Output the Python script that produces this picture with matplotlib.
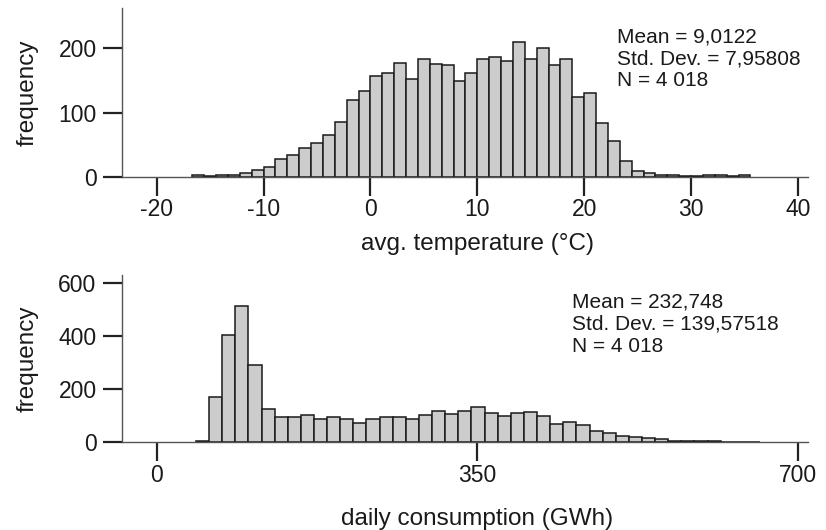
import numpy as np
import matplotlib
matplotlib.use("Agg")
import matplotlib.pyplot as plt

#******************
#   Data
#******************
# avg. temperature histogram (bin width 10/9 degC, first bin starts at -15 bins)
temp_start = -150.0 / 9.0
temp_width = 10.0 / 9.0
temp_counts = [2, 1, 2, 2, 6, 11, 15, 27, 34, 44, 52, 65, 86, 119, 133,
               157, 162, 178, 152, 183, 175, 174, 149, 162, 183, 187, 180,
               210, 183, 200, 174, 183, 125, 131,
               83, 55, 24, 9, 5, 3, 2, 1, 1, 2, 2, 1, 2]
temp_xticks = [-20, -10, 0, 10, 20, 30, 40]
temp_yticks = [0, 100, 200]
temp_stats = "Mean = 9,0122\nStd. Dev. = 7,95808\nN = 4 018"

# daily consumption histogram
cons_start = 42.9
cons_width = 14.32
cons_counts = [5, 172, 403, 514, 291, 125, 96, 96, 103, 88, 96, 88, 71, 88,
               96, 96, 89, 103, 118, 107, 118, 132, 109, 100, 109, 115, 100,
               69, 78, 65, 43, 34, 25, 21, 18, 11, 6, 5, 6, 4, 2, 2, 2]
cons_xticks = [0, 350, 700]
cons_yticks = [0, 200, 400, 600]
cons_stats = "Mean = 232,748\nStd. Dev. = 139,57518\nN = 4 018"

#*******************
#   Set asthetics
#*******************
plt.rcParams["font.family"] = ["Liberation Sans", "DejaVu Sans"]
plt.rcParams["axes.unicode_minus"] = False
txt = "#1a1a1a"
bar_face = "#cccccc"
bar_edge = "#1a1a1a"
spine_col = "#555555"

W, H = 826, 530
fig = plt.figure(figsize=(W / 100, H / 100), dpi=100)

def px_axes(left, top, right, bottom):
    return fig.add_axes([left / W, 1 - bottom / H, (right - left) / W, (bottom - top) / H])

ax1 = px_axes(122, 8, 808, 176.7)
ax2 = px_axes(122, 275, 808, 442.3)

def style(ax, xticks, yticks, xlim, ylim, xlabel, xlab_y):
    ax.set_xlim(*xlim)
    ax.set_ylim(*ylim)
    ax.set_xticks(xticks)
    ax.set_yticks(yticks)
    for s in ["top", "right"]:
        ax.spines[s].set_visible(False)
    for s in ["left", "bottom"]:
        ax.spines[s].set_color(spine_col)
        ax.spines[s].set_linewidth(1.0)
    ax.tick_params(axis="both", direction="out", length=14, width=1.6,
                   color="#222222", labelsize=16.5, labelcolor=txt)
    ax.tick_params(axis="y", pad=4.3)
    ax.tick_params(axis="x", pad=1.5)
    ax.set_ylabel("frequency", fontsize=17.5, color=txt)
    ax.yaxis.set_label_coords(-0.122, 0.5)
    ax.set_xlabel(xlabel, fontsize=17.5, color=txt)
    ax.xaxis.set_label_coords(0.5175, xlab_y)

#*******************
#   Plot
#*******************
t_left = temp_start + temp_width * np.arange(len(temp_counts))
ax1.bar(t_left, temp_counts, width=temp_width, align="edge",
        color=bar_face, edgecolor=bar_edge, linewidth=1.1)
style(ax1, temp_xticks, temp_yticks, (-23.25, 40.94), (0, 263),
      "avg. temperature (°C)", -0.335)

c_left = cons_start + cons_width * np.arange(len(cons_counts))
ax2.bar(c_left, cons_counts, width=cons_width, align="edge",
        color=bar_face, edgecolor=bar_edge, linewidth=1.1)
style(ax2, cons_xticks, cons_yticks, (-37.8, 711), (0, 629),
      "daily consumption (GWh)", -0.395)

#******************
#   Stats boxes
#******************
fig.text(616.7 / W, 1 - 27.5 / H, temp_stats, ha="left", va="top",
         fontsize=15, color=txt, linespacing=1.17)
fig.text(571.7 / W, 1 - 293 / H, cons_stats, ha="left", va="top",
         fontsize=15, color=txt, linespacing=1.2)

fig.savefig("out.png", dpi=100)
